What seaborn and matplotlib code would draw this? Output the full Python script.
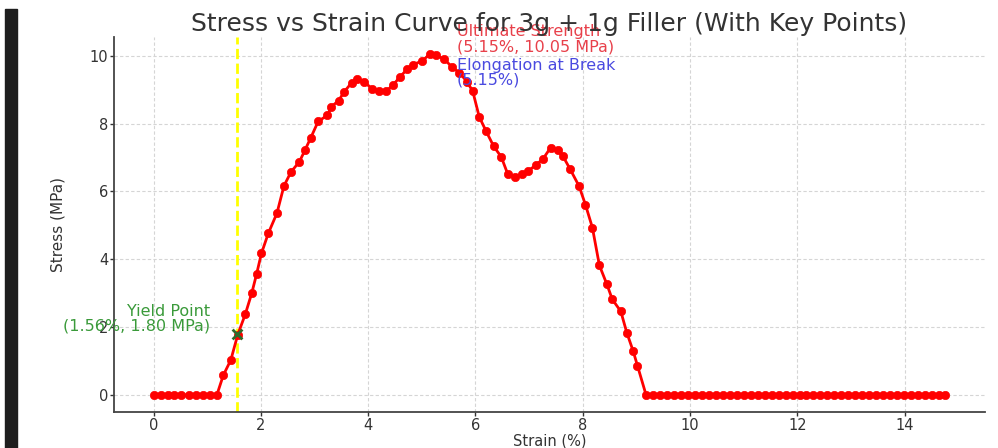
import matplotlib
matplotlib.use("Agg")
import matplotlib.pyplot as plt
from matplotlib.patches import Rectangle
import seaborn as sns
import pandas as pd

# Measured stress-strain curve for the 3g + 1g filler specimen
strain = [
    0.00, 0.13, 0.26, 0.39, 0.52, 0.66, 0.79, 0.92, 1.05, 1.18,
    1.30, 1.44, 1.57, 1.71, 1.83, 1.92, 2.01, 2.14, 2.30, 2.43,
    2.56, 2.72, 2.82, 2.93, 3.07, 3.24, 3.31, 3.45, 3.55, 3.69,
    3.79, 3.92, 4.07, 4.20, 4.33, 4.46, 4.59, 4.73, 4.84, 5.01,
    5.15, 5.27, 5.42, 5.56, 5.70, 5.84, 5.95, 6.07, 6.20, 6.34,
    6.48, 6.60, 6.73, 6.86, 6.98, 7.12, 7.26, 7.40, 7.53, 7.63,
    7.76, 7.93, 8.05, 8.18, 8.31, 8.45, 8.55, 8.71, 8.82, 8.94,
    9.02, 9.18, 9.31, 9.44, 9.57, 9.70, 9.83, 9.96, 10.09, 10.22,
    10.35, 10.48, 10.61, 10.74, 10.87, 11.00, 11.13, 11.26, 11.39, 11.52,
    11.65, 11.78, 11.91, 12.04, 12.17, 12.30, 12.43, 12.56, 12.69, 12.82,
    12.95, 13.08, 13.21, 13.34, 13.47, 13.60, 13.73, 13.86, 13.99, 14.12,
    14.25, 14.38, 14.51, 14.64, 14.76,
]
stress = [
    0.00, 0.00, 0.00, 0.00, 0.00, 0.00, 0.00, 0.00, 0.00, 0.00,
    0.58, 1.03, 1.78, 2.38, 3.00, 3.56, 4.17, 4.77, 5.36, 6.16,
    6.57, 6.88, 7.21, 7.58, 8.07, 8.24, 8.49, 8.68, 8.93, 9.20,
    9.30, 9.24, 9.03, 8.95, 8.95, 9.13, 9.37, 9.61, 9.74, 9.85,
    10.05, 10.01, 9.90, 9.67, 9.50, 9.24, 8.95, 8.20, 7.77, 7.33,
    7.02, 6.52, 6.43, 6.50, 6.60, 6.77, 6.96, 7.29, 7.21, 7.04,
    6.67, 6.16, 5.61, 4.93, 3.82, 3.26, 2.82, 2.46, 1.84, 1.29,
    0.86, 0.00, 0.00, 0.00, 0.00, 0.00, 0.00, 0.00, 0.00, 0.00,
    0.00, 0.00, 0.00, 0.00, 0.00, 0.00, 0.00, 0.00, 0.00, 0.00,
    0.00, 0.00, 0.00, 0.00, 0.00, 0.00, 0.00, 0.00, 0.00, 0.00,
    0.00, 0.00, 0.00, 0.00, 0.00, 0.00, 0.00, 0.00, 0.00, 0.00,
    0.00, 0.00, 0.00, 0.00, 0.00,
]

# Key points
yield_strain, yield_stress = 1.56, 1.80
ultimate_strain, ultimate_stress = 5.15, 10.05
break_strain = 5.15

df = pd.DataFrame({"Strain (%)": strain, "Stress (MPa)": stress})

sns.set_theme(style="whitegrid")
plt.rcParams["font.family"] = ["DejaVu Sans"]

fig = plt.figure(figsize=(9.98, 4.48), dpi=100)
ax = fig.add_axes([0.1142, 0.0804, 0.8728, 0.837])

sns.lineplot(data=df, x="Strain (%)", y="Stress (MPa)", ax=ax,
             color="red", linewidth=2, marker="o", markersize=6,
             markeredgecolor="red", markeredgewidth=0.5, zorder=3)

ax.axvline(yield_strain, color="yellow", linestyle="--", linewidth=2, zorder=2)
sns.scatterplot(x=[yield_strain], y=[yield_stress], ax=ax, marker="x",
                color="#2e6b2a", s=50, linewidth=2, zorder=5)

ax.text(yield_strain - 0.5, yield_stress,
        f"Yield Point\n({yield_strain:.2f}%, {yield_stress:.2f} MPa)",
        color="#3a9a3a", fontsize=11.5, ha="right", va="bottom", linespacing=1.0)
ax.text(ultimate_strain + 0.5, ultimate_stress,
        f"Ultimate Strength\n({ultimate_strain:.2f}%, {ultimate_stress:.2f} MPa)",
        color="#e8404a", fontsize=11.5, ha="left", va="bottom", linespacing=1.0)
ax.text(ultimate_strain + 0.5, ultimate_stress - 1.0,
        f"Elongation at Break\n({break_strain:.2f}%)",
        color="#4a4ae0", fontsize=11.5, ha="left", va="bottom", linespacing=1.0)

ax.set_title("Stress vs Strain Curve for 3g + 1g Filler (With Key Points)",
             fontsize=18, color="#333333", pad=4)
ax.set_xlabel("Strain (%)", fontsize=10.5, color="#333333")
ax.set_ylabel("Stress (MPa)", fontsize=11, color="#333333")
ax.xaxis.set_label_coords(0.5, -0.057)
ax.yaxis.set_label_coords(-0.056, 0.5)

ax.set_xticks([0, 2, 4, 6, 8, 10, 12, 14])
ax.set_yticks([0, 2, 4, 6, 8, 10])
ax.tick_params(axis="both", labelsize=10.5, colors="#333333", length=3,
               width=1, pad=1, direction="out", left=True, bottom=True)
ax.grid(True, linestyle=(0, (3, 2)), linewidth=0.8, color="#d5d5d5")
for side in ("top", "right"):
    ax.spines[side].set_visible(False)
for side in ("left", "bottom"):
    ax.spines[side].set_color("#444444")
    ax.spines[side].set_linewidth(1.3)

# dark frame strip on the left edge
fig.add_artist(Rectangle((5 / 998, 0), 12 / 998, (448 - 9) / 448,
                         transform=fig.transFigure, color="#1e1e1e", zorder=10))

fig.savefig("out.png", dpi=100)
